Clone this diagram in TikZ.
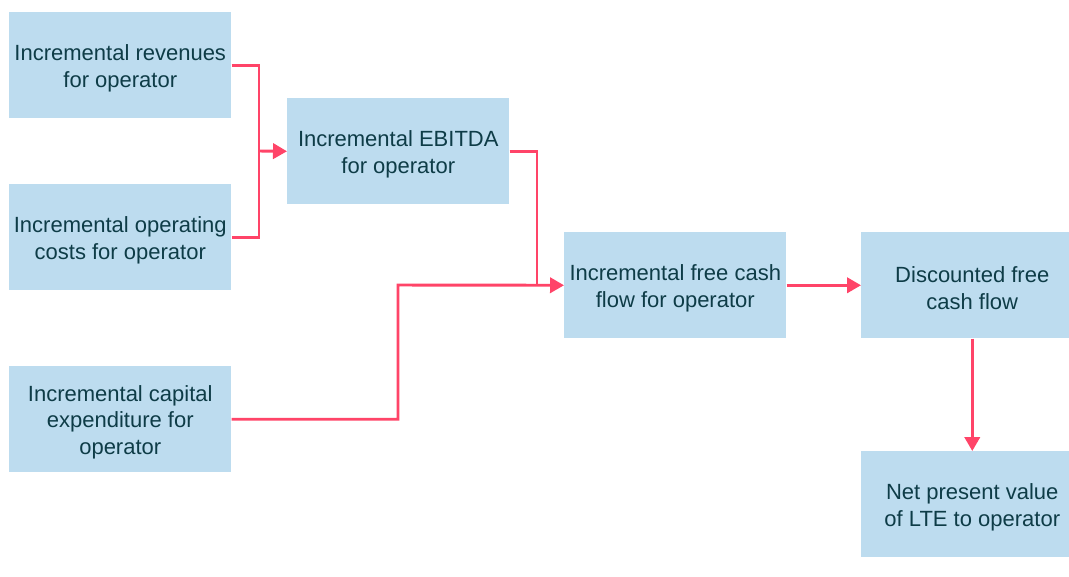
\documentclass[tikz,border=0pt]{standalone}
\usepackage{fontspec}
\setmainfont{Liberation Sans}
\usetikzlibrary{arrows.meta}
\definecolor{boxfill}{HTML}{BDDCEF}
\definecolor{boxtext}{HTML}{0E3C47}
\definecolor{flow}{HTML}{FF4468}
\begin{document}
\begin{tikzpicture}[x=0.75pt,y=-0.75pt,
  stage/.style={fill=boxfill,draw=none,minimum width=166.5pt,minimum height=79.5pt,
    inner sep=0pt,anchor=north west,
    label={[caption]center:{#1}}},
  caption/.style={align=center,text=boxtext,font=\fontsize{16.5}{20}\selectfont,
    inner sep=0pt,yshift=-2.25pt},
  link/.style={draw=flow,line width=2.2pt,-{Triangle[length=10.5pt,width=11.5pt]}},
  flowline/.style={draw=flow,line width=2.2pt}]
\clip (0,0) rectangle (1069,576);
\fill[white] (0,0) rectangle (1069,576);
\node[stage={Incremental revenues\\for operator}] (rev) at (9,12) {};
\node[stage={Incremental operating\\costs for operator}] (opc) at (9,184) {};
\node[stage={Incremental EBITDA\\for operator}] (ebd) at (287,98) {};
\node[stage={Incremental free cash\\flow for operator}] (fcf) at (564,232) {};
\node[stage={Incremental capital\\expenditure for\\operator}] (cap) at (9,366) {};
\node[stage={Discounted free\\cash flow}] (dcf) at (861,232) {};
\node[stage={Net present value\\of LTE to operator}] (npv) at (861,451) {};
\coordinate (m1) at (259,151);
\coordinate (m2) at (537,285);
\draw[flowline] (rev.east) -| (m1) |- (opc.east);
\draw[link] (m1) -- (ebd.west);
\draw[flowline] (ebd.east) -| (m2);
\draw[link] (cap.east) -| (398,285) -- (fcf.west);
\draw[link] (fcf.east) -- (dcf.west);
\draw[link] (dcf.south) -- (npv.north);
\end{tikzpicture}
\end{document}
